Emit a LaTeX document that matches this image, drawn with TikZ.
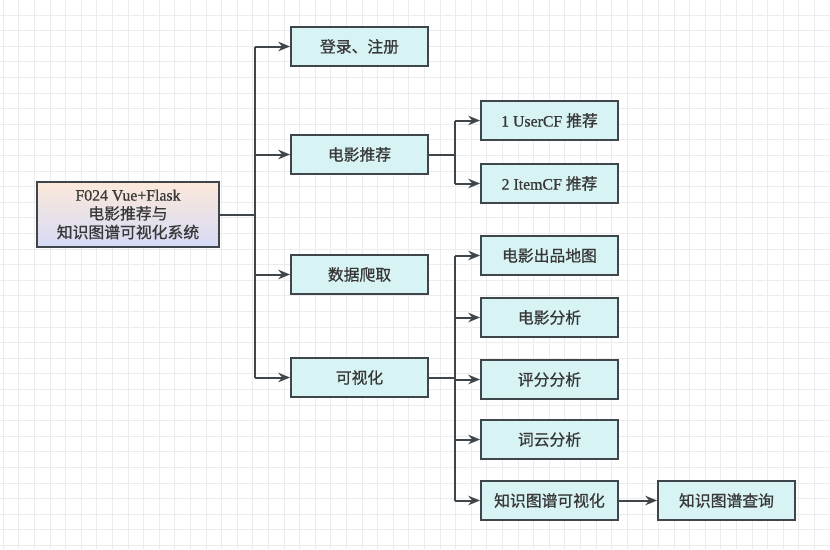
\documentclass[tikz,border=0pt]{standalone}
\usepackage{fontspec}
\setmainfont{Liberation Serif}[FakeBold=0.8]
\newfontfamily\cjk{Noto Sans CJK SC}[FakeBold=0.8]
\usetikzlibrary{positioning, arrows.meta}
\definecolor{boxfill}{RGB}{216,243,243}
\definecolor{boxline}{RGB}{62,70,76}
\definecolor{gridminor}{RGB}{236,236,236}
\definecolor{gridmajor}{RGB}{226,226,226}
\newcommand{\zh}[1]{{\cjk #1}}

\begin{document}
\begin{tikzpicture}[x=0.03cm, y=-0.03cm]
  \tikzset{
    cell/.style={
      draw=boxline,
      line width=1.6pt,
      minimum width=4.11cm,
      minimum height=1.17cm,
      anchor=center,
      fill=boxfill,
      font=\fontsize{13.5}{16}\selectfont,
      text=black!78
    },
    rootcell/.style={
      draw=boxline,
      line width=1.6pt,
      minimum width=5.46cm,
      minimum height=1.95cm,
      anchor=center,
      top color={rgb,255:red,252;green,233;blue,218},
      bottom color={rgb,255:red,214;green,218;blue,246},
      align=center,
      font=\fontsize{13.5}{16}\selectfont,
      text=black!78
    },
    link/.style={
      draw=boxline,
      line width=1.7pt
    },
    arrowlink/.style={
      link,
      -{Stealth[length=10pt, width=8pt]}
    }
  }

  % background grid
  \useasboundingbox (0,0) rectangle (830,549);
  \foreach \k in {0,...,53} {
    \draw[gridminor, line width=0.7pt] (3.3+15.6*\k,0) -- (3.3+15.6*\k,549);
  }
  \foreach \k in {0,...,35} {
    \draw[gridminor, line width=0.7pt] (0,15+15.6*\k) -- (830,15+15.6*\k);
  }

  % root
  \node[rootcell] at (128, 214.5) (root) {F024 Vue+Flask\\\zh{电影推荐与}\\\zh{知识图谱可视化系统}};

  % first level
  \node[cell] at (359.5, 46.5) (login) {\zh{登录、注册}};
  \node[cell] at (359.5, 154.5) (recom) {\zh{电影推荐}};
  \node[cell] at (359.5, 274.5) (crawl) {\zh{数据爬取}};
  \node[cell] at (359.5, 377.5) (vis) {\zh{可视化}};

  % recommendation
  \node[cell] at (549.5, 120.5) (usercf) {1 UserCF \zh{推荐}};
  \node[cell] at (549.5, 183.5) (itemcf) {2 ItemCF \zh{推荐}};

  % visualisation
  \node[cell] at (549.5, 255.5) (mapvis) {\zh{电影出品地图}};
  \node[cell] at (549.5, 317.5) (moviean) {\zh{电影分析}};
  \node[cell] at (549.5, 379.5) (ratean) {\zh{评分分析}};
  \node[cell] at (549.5, 439.5) (cloudan) {\zh{词云分析}};
  \node[cell] at (549.5, 500.5) (kgvis) {\zh{知识图谱可视化}};
  \node[cell] at (726.5, 500.5) (kgquery) {\zh{知识图谱查询}};

  % connectors from root
  \coordinate (trunk) at (255, 214.5);
  \draw[link] (root.east) -- (trunk);
  \draw[link] (trunk |- login) -- (trunk |- vis);
  \foreach \n in {login, recom, crawl, vis}
    \draw[arrowlink] (trunk |- \n) -- (\n.west);

  % connectors from recommendation
  \coordinate (recsplit) at (455, 154.5);
  \draw[link] (recom.east) -- (recsplit);
  \draw[link] (recsplit |- usercf) -- (recsplit |- itemcf);
  \foreach \n in {usercf, itemcf}
    \draw[arrowlink] (recsplit |- \n) -- (\n.west);

  % connectors from visualisation
  \coordinate (vissplit) at (455, 377.5);
  \draw[link] (vis.east) -- (vissplit);
  \draw[link] (vissplit |- mapvis) -- (vissplit |- kgvis);
  \foreach \n in {mapvis, moviean, ratean, cloudan, kgvis}
    \draw[arrowlink] (vissplit |- \n) -- (\n.west);

  \draw[arrowlink] (kgvis.east) -- (kgquery.west);

\end{tikzpicture}
\end{document}
